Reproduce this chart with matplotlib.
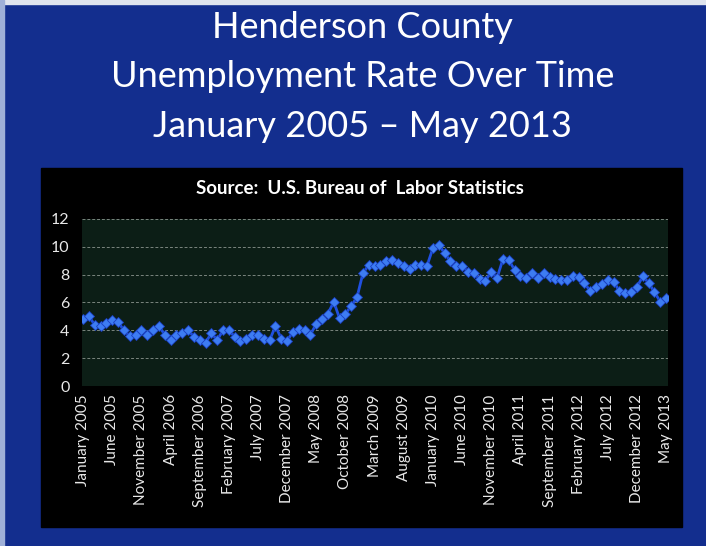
import matplotlib.pyplot as plt
import numpy as np
from matplotlib.patches import Rectangle

# Monthly unemployment rate, January 2005 - May 2013
rate = [
    4.8, 5.0, 4.4, 4.3, 4.5, 4.75, 4.6, 4.0, 3.6, 3.7,      # 2005
    4.0, 3.7, 4.0, 4.3, 3.7, 3.3, 3.7, 3.8, 4.0, 3.55,      # to Aug 2006
    3.3, 3.1, 3.8, 3.3, 4.0, 4.0, 3.55, 3.25, 3.4, 3.7,
    3.7, 3.4, 3.3, 4.3, 3.4, 3.25, 3.9, 4.1, 4.0, 3.7,
    4.45, 4.8, 5.2, 6.05, 4.85, 5.2, 5.75, 6.4, 8.1, 8.7,
    8.6, 8.7, 9.0, 9.05, 8.8, 8.6, 8.4, 8.7, 8.7, 8.65,
    9.9, 10.15, 9.55, 8.95, 8.6, 8.65, 8.2, 8.1, 7.7, 7.55,
    8.2, 7.75, 9.1, 9.05, 8.35, 7.9, 7.75, 8.1, 7.75, 8.1,
    7.85, 7.7, 7.6, 7.6, 7.9, 7.8, 7.4, 6.8, 7.1, 7.3,
    7.65, 7.5, 6.8, 6.65, 6.75, 7.1, 7.9, 7.4, 6.75, 6.05,
    6.35,
]
months = ["January", "February", "March", "April", "May", "June", "July",
          "August", "September", "October", "November", "December"]
labels = [f"{months[i % 12]} {2005 + i // 12}" for i in range(len(rate))]
tick_step = 5

title_lines = ["Henderson County", "Unemployment Rate Over Time",
               "January 2005 \u2013 May 2013"]
source = "Source:  U.S. Bureau of  Labor Statistics"

plt.rcParams['font.family'] = ['Lato', 'DejaVu Sans']

fig = plt.figure(figsize=(7.06, 5.46), dpi=100)
fig.patch.set_facecolor('#132e8e')

# light scan edges at top / left
fig.add_artist(Rectangle((0, 0.992), 1, 0.008, transform=fig.transFigure,
                         color='#dfe4ee', zorder=0))
fig.add_artist(Rectangle((0, 0), 0.006, 1, transform=fig.transFigure,
                         color='#9fb0d8', zorder=0))

# black chart box
fig.add_artist(Rectangle((0.058, 0.035), 0.908, 0.657, transform=fig.transFigure,
                         color='black', zorder=0))

for i, line in enumerate(title_lines):
    fig.text(0.514, 1 - (28 + 49 * i) / 546, line, color='white', fontsize=26,
             ha='center', va='center')

fig.text(0.51, 1 - 188 / 546, source, color='white', fontsize=13.5,
         fontweight='bold', ha='center', va='center')

ax = fig.add_axes([0.116, 0.293, 0.830, 0.306])
ax.set_facecolor('#0c1e16')
x = np.arange(len(rate))
ax.plot(x, rate, color='#2050e0', lw=2, marker='D', markersize=5.5,
        markerfacecolor='#3d7cf2', markeredgecolor='#1a3fc0', markeredgewidth=0.6)

ax.set_ylim(0, 12)
ax.set_yticks(range(0, 13, 2))
ax.set_xlim(-0.2, len(rate) - 0.7)
ax.set_xticks(x[::tick_step])
ax.set_xticklabels(labels[::tick_step], rotation=90, color='#e8e8e8', fontsize=11)
ax.tick_params(axis='y', colors='#e8e8e8', labelsize=11.5, length=0, pad=9)
ax.tick_params(axis='x', length=0, pad=6)
ax.grid(axis='y', color='#7a857e', lw=0.7, ls=(0, (3, 2)))
ax.set_axisbelow(True)
for s in ax.spines.values():
    s.set_visible(False)

fig.savefig('out.png', dpi=100, facecolor=fig.get_facecolor())
